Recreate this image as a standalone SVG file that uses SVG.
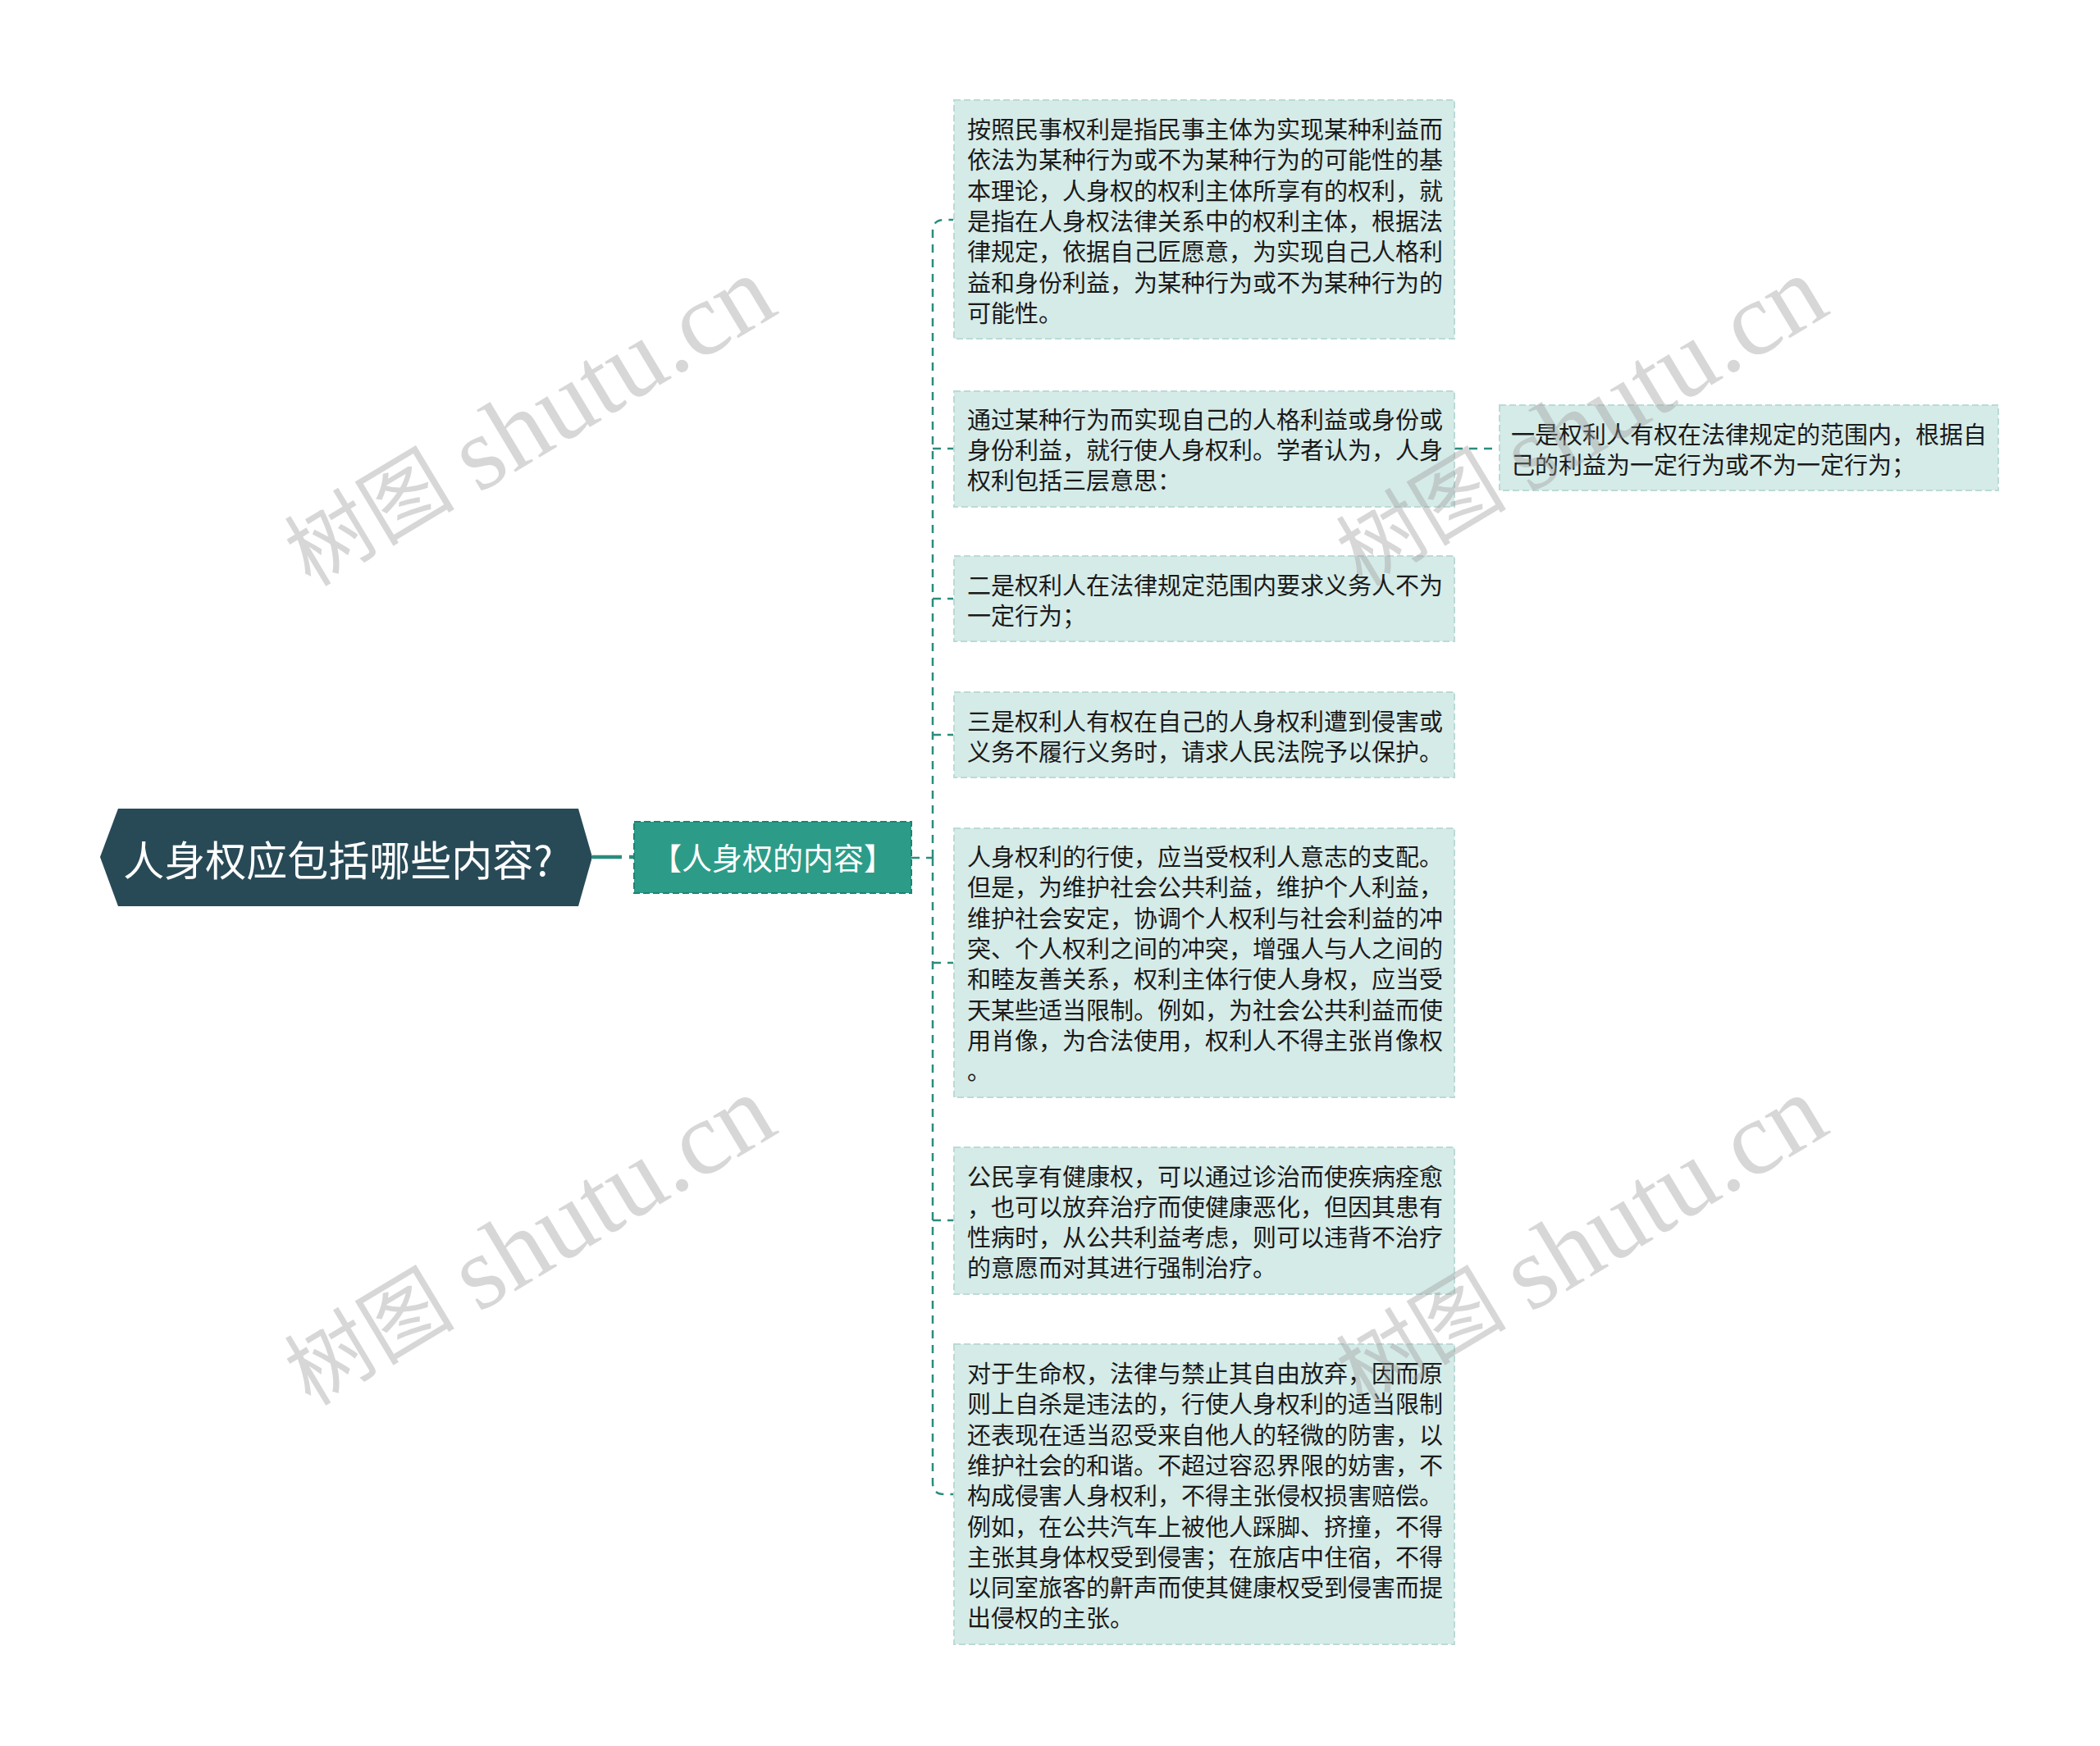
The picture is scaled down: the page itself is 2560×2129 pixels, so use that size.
<svg xmlns="http://www.w3.org/2000/svg" width="2560" height="2129" viewBox="0 0 2560 2129">
<style>
.box{fill:#d5ebe8;stroke:#bcdad6;stroke-width:2;stroke-dasharray:8 4;}
.t{font-family:"Noto Sans CJK SC","Noto Sans",sans-serif;font-size:29px;fill:#1a1a1a;dominant-baseline:central;}
.conn{fill:none;stroke:#2b8c7d;stroke-width:2.5;stroke-dasharray:10 8;}
.wm{font-family:"Liberation Serif","Noto Sans CJK SC",serif;font-size:104px;fill:#9a9a9a;fill-opacity:0.4;dominant-baseline:central;text-anchor:middle;}
.wl{font-size:128px;}
</style>
<rect width="2560" height="2129" fill="#ffffff"/>
<g id="connectors">
<line x1="722" y1="1045" x2="773" y2="1045" stroke="#2b8c7d" stroke-width="4.5" stroke-dasharray="36 9 10 20"/>
<line x1="1111" y1="1046" x2="1137" y2="1046" class="conn"/>
<path class="conn" d="M1137 1046 V282 Q1137 268 1151 268 H1162"/>
<path class="conn" d="M1137 1046 V1808 Q1137 1822 1151 1822 H1162"/>
<path class="conn" d="M1137 547 H1162"/>
<path class="conn" d="M1137 730 H1162"/>
<path class="conn" d="M1137 896 H1162"/>
<path class="conn" d="M1137 1174 H1162"/>
<path class="conn" d="M1137 1488 H1162"/>
<line x1="1773" y1="547" x2="1828" y2="547" class="conn"/>
</g>
<g id="root">
<polygon points="122,1045 144,986 705,986 722,1045 705,1105 144,1105" fill="#284a57"/>
<text x="412" y="1046" font-family="Noto Sans CJK SC, sans-serif" font-size="50" fill="#ffffff" text-anchor="middle" dominant-baseline="central">人身权应包括哪些内容?</text>
</g>
<g id="branch">
<rect x="773" y="1002" width="338" height="87" fill="#2c9c89" stroke="#1f8372" stroke-width="2" stroke-dasharray="8 4"/>
<text x="942" y="1045" font-family="Noto Sans CJK SC, sans-serif" font-size="37" fill="#ffffff" text-anchor="middle" dominant-baseline="central">【人身权的内容】</text>
</g>
<g id="c1">
<rect class="box" x="1163" y="122" width="610" height="291"/>
<text class="t" x="1179" y="156">按照民事权利是指民事主体为实现某种利益而</text>
<text class="t" x="1179" y="193.3">依法为某种行为或不为某种行为的可能性的基</text>
<text class="t" x="1179" y="230.6">本理论，人身权的权利主体所享有的权利，就</text>
<text class="t" x="1179" y="267.9">是指在人身权法律关系中的权利主体，根据法</text>
<text class="t" x="1179" y="305.2">律规定，依据自己匠愿意，为实现自己人格利</text>
<text class="t" x="1179" y="342.5">益和身份利益，为某种行为或不为某种行为的</text>
<text class="t" x="1179" y="379.8">可能性。</text>
</g>
<g id="c2">
<rect class="box" x="1163" y="477" width="610" height="141"/>
<text class="t" x="1179" y="509.7">通过某种行为而实现自己的人格利益或身份或</text>
<text class="t" x="1179" y="547">身份利益，就行使人身权利。学者认为，人身</text>
<text class="t" x="1179" y="584.3">权利包括三层意思：</text>
</g>
<g id="c2a">
<rect class="box" x="1828" y="494" width="608" height="104"/>
<text class="t" x="1842" y="527.5">一是权利人有权在法律规定的范围内，根据自</text>
<text class="t" x="1842" y="564.8">己的利益为一定行为或不为一定行为；</text>
</g>
<g id="c3">
<rect class="box" x="1163" y="678" width="610" height="104"/>
<text class="t" x="1179" y="711.5">二是权利人在法律规定范围内要求义务人不为</text>
<text class="t" x="1179" y="748.8">一定行为；</text>
</g>
<g id="c4">
<rect class="box" x="1163" y="844" width="610" height="104"/>
<text class="t" x="1179" y="877.5">三是权利人有权在自己的人身权利遭到侵害或</text>
<text class="t" x="1179" y="914.8">义务不履行义务时，请求人民法院予以保护。</text>
</g>
<g id="c5">
<rect class="box" x="1163" y="1010" width="610" height="328"/>
<text class="t" x="1179" y="1043">人身权利的行使，应当受权利人意志的支配。</text>
<text class="t" x="1179" y="1080.3">但是，为维护社会公共利益，维护个人利益，</text>
<text class="t" x="1179" y="1117.6">维护社会安定，协调个人权利与社会利益的冲</text>
<text class="t" x="1179" y="1154.9">突、个人权利之间的冲突，增强人与人之间的</text>
<text class="t" x="1179" y="1192.2">和睦友善关系，权利主体行使人身权，应当受</text>
<text class="t" x="1179" y="1229.5">天某些适当限制。例如，为社会公共利益而使</text>
<text class="t" x="1179" y="1266.8">用肖像，为合法使用，权利人不得主张肖像权</text>
<text class="t" x="1179" y="1304.1">。</text>
</g>
<g id="c6">
<rect class="box" x="1163" y="1399" width="610" height="179"/>
<text class="t" x="1179" y="1432.5">公民享有健康权，可以通过诊治而使疾病痊愈</text>
<text class="t" x="1179" y="1469.8">，也可以放弃治疗而使健康恶化，但因其患有</text>
<text class="t" x="1179" y="1507.1">性病时，从公共利益考虑，则可以违背不治疗</text>
<text class="t" x="1179" y="1544.4">的意愿而对其进行强制治疗。</text>
</g>
<g id="c7">
<rect class="box" x="1163" y="1639" width="610" height="366"/>
<text class="t" x="1179" y="1673">对于生命权，法律与禁止其自由放弃，因而原</text>
<text class="t" x="1179" y="1710.3">则上自杀是违法的，行使人身权利的适当限制</text>
<text class="t" x="1179" y="1747.6">还表现在适当忍受来自他人的轻微的防害，以</text>
<text class="t" x="1179" y="1784.9">维护社会的和谐。不超过容忍界限的妨害，不</text>
<text class="t" x="1179" y="1822.2">构成侵害人身权利，不得主张侵权损害赔偿。</text>
<text class="t" x="1179" y="1859.5">例如，在公共汽车上被他人踩脚、挤撞，不得</text>
<text class="t" x="1179" y="1896.8">主张其身体权受到侵害；在旅店中住宿，不得</text>
<text class="t" x="1179" y="1934.1">以同室旅客的鼾声而使其健康权受到侵害而提</text>
<text class="t" x="1179" y="1971.4">出侵权的主张。</text>
</g>
<g id="watermarks">
<text class="wm" transform="translate(645,515) rotate(-31)">树图 <tspan class="wl">shutu.cn</tspan></text>
<text class="wm" transform="translate(1927,515) rotate(-31)">树图 <tspan class="wl">shutu.cn</tspan></text>
<text class="wm" transform="translate(645,1514) rotate(-31)">树图 <tspan class="wl">shutu.cn</tspan></text>
<text class="wm" transform="translate(1927,1514) rotate(-31)">树图 <tspan class="wl">shutu.cn</tspan></text>
</g>
</svg>
